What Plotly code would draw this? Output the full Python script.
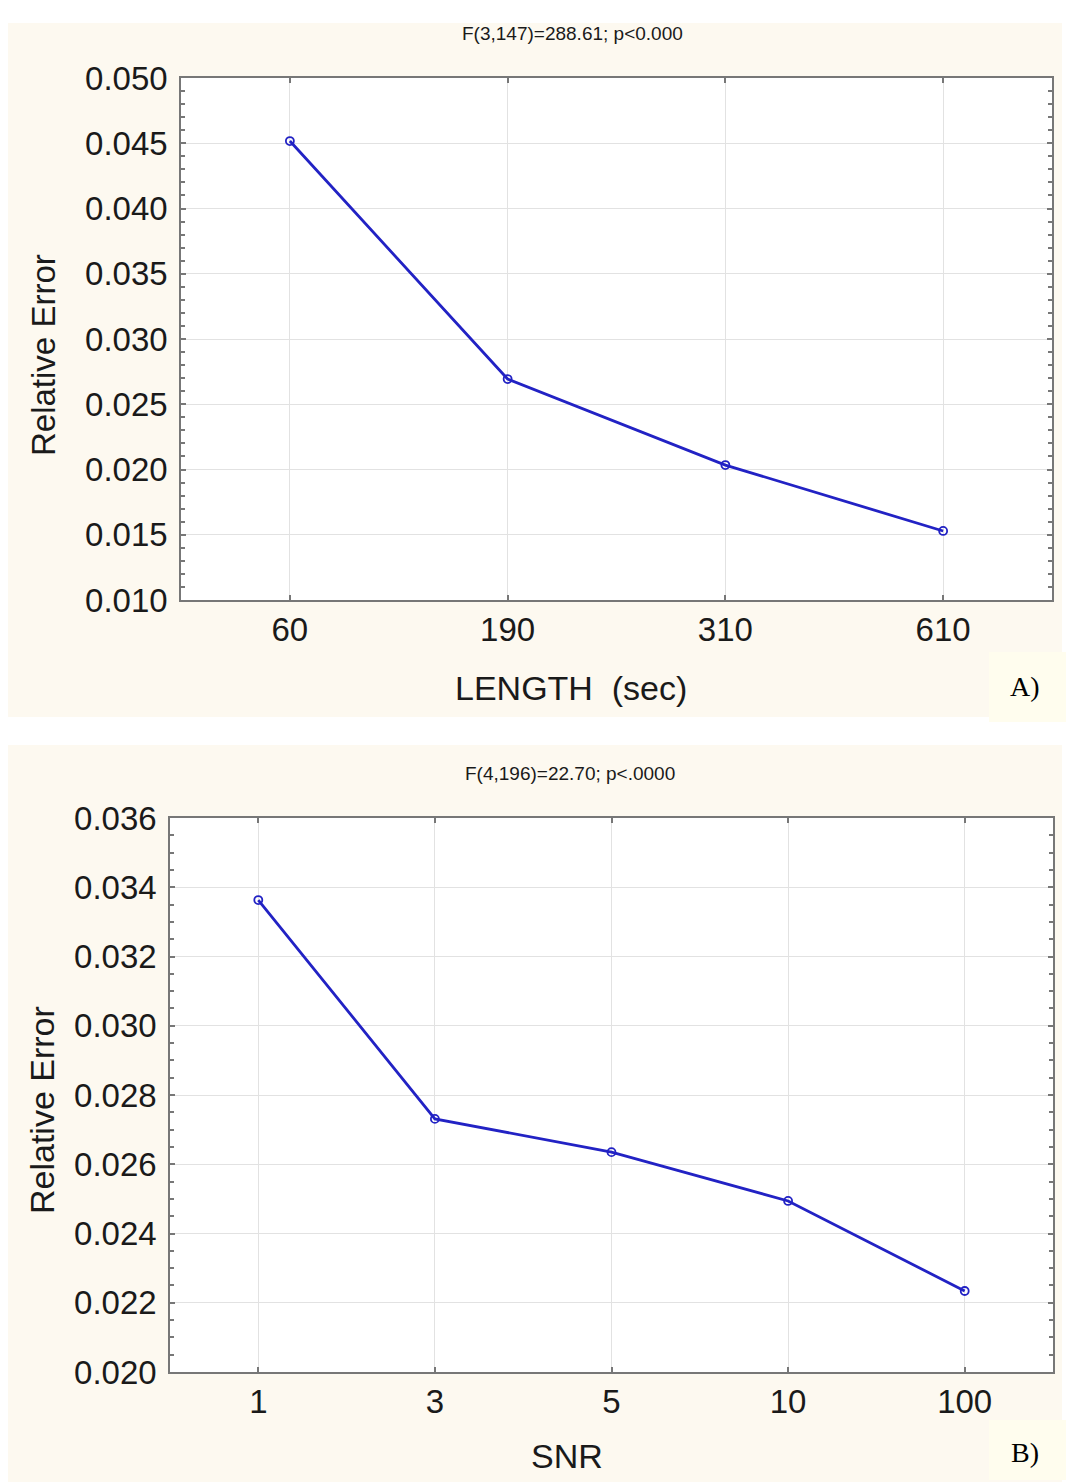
import plotly.graph_objects as go

# Data: mean relative error by recording length and by SNR
length_labels = ["60", "190", "310", "610"]
length_error = [0.04517, 0.02693, 0.02034, 0.01529]

snr_labels = ["1", "3", "5", "10", "100"]
snr_error = [0.03363, 0.02731, 0.02635, 0.02494, 0.02234]

title_a = "F(3,147)=288.61; p<0.000"
title_b = "F(4,196)=22.70; p<.0000"

W, H = 1070, 1482
CREAM = "#fdf9f0"
BOX = "#fffdee"
BLUE = "#2222c4"
GRID = "#e2e2e2"
AXIS = "#777777"
TXT = "#1a1a1a"
FONT = "Liberation Sans, Arial, sans-serif"

# plot-area rectangles in pixels: (left, right, top, bottom)
AREA_A = (181, 1052, 78, 600)
AREA_B = (170, 1053, 818, 1372)


def px_x(x):
    return x / W


def px_y(y):
    return 1 - y / H


fig = go.Figure()

for xs, ys, xa, ya in [(length_labels, length_error, "x", "y"),
                       (snr_labels, snr_error, "x2", "y2")]:
    fig.add_trace(go.Scatter(
        x=xs, y=ys, mode="lines+markers",
        line=dict(color=BLUE, width=2.8),
        marker=dict(symbol="circle-open", size=8, color=BLUE, line=dict(width=1.8)),
        xaxis=xa, yaxis=ya, showlegend=False,
    ))

common_x = dict(
    type="category", showgrid=True, gridcolor=GRID, gridwidth=1,
    showline=True, linecolor=AXIS, linewidth=1.5, mirror="ticks",
    ticks="inside", ticklen=5, tickcolor=AXIS, tickwidth=1.5,
    tickfont=dict(family=FONT, size=33, color=TXT),
    ticklabelstandoff=0, zeroline=False, automargin=False,
)
common_y = dict(
    showgrid=True, gridcolor=GRID, gridwidth=1,
    showline=True, linecolor=AXIS, linewidth=1.5, mirror="ticks",
    ticks="inside", ticklen=5, tickcolor=AXIS, tickwidth=1.5,
    tickfont=dict(family=FONT, size=33, color=TXT),
    ticklabelstandoff=5, zeroline=False, automargin=False,
)

fig.update_layout(
    width=W, height=H,
    margin=dict(l=0, r=0, t=0, b=0, pad=0, autoexpand=False),
    paper_bgcolor="white", plot_bgcolor="white",
    xaxis=dict(common_x, domain=[px_x(AREA_A[0]), px_x(AREA_A[1])], range=[-0.5, 3.5],
               anchor="y"),
    yaxis=dict(common_y, domain=[px_y(AREA_A[3]), px_y(AREA_A[2])], range=[0.010, 0.050],
               tickvals=[0.010, 0.015, 0.020, 0.025, 0.030, 0.035, 0.040, 0.045, 0.050],
               tickformat=".3f", anchor="x",
               minor=dict(ticks="inside", dtick=0.001, ticklen=4,
                          tickcolor=AXIS, showgrid=False)),
    xaxis2=dict(common_x, domain=[px_x(AREA_B[0]), px_x(AREA_B[1])], range=[-0.5, 4.5],
                anchor="y2"),
    yaxis2=dict(common_y, domain=[px_y(AREA_B[3]), px_y(AREA_B[2])], range=[0.020, 0.036],
                tickvals=[0.020, 0.022, 0.024, 0.026, 0.028, 0.030, 0.032, 0.034, 0.036],
                tickformat=".3f", anchor="x2",
                minor=dict(ticks="inside", dtick=0.0005, ticklen=4,
                           tickcolor=AXIS, showgrid=False)),
)


def rect(x0, x1, y0, y1, color):
    return dict(type="rect", xref="paper", yref="paper", layer="below",
                x0=px_x(x0), x1=px_x(x1), y0=px_y(y1), y1=px_y(y0),
                fillcolor=color, line=dict(width=0))


# Panel backgrounds, white plot areas and label boxes
shapes = [
    rect(8, 1062, 23, 717, CREAM),
    rect(8, 1062, 745, 1482, CREAM),
    rect(AREA_A[0], AREA_A[1], AREA_A[2], AREA_A[3], "white"),
    rect(AREA_B[0], AREA_B[1], AREA_B[2], AREA_B[3], "white"),
    rect(989, 1066, 652, 722, BOX),
    rect(989, 1066, 1420, 1480, BOX),
]
fig.update_layout(shapes=shapes)


def note(text, x, y, size, family=FONT, angle=0, color=TXT):
    fig.add_annotation(text=text, x=px_x(x), y=px_y(y), xref="paper", yref="paper",
                       showarrow=False, xanchor="center", yanchor="middle",
                       textangle=angle, font=dict(family=family, size=size, color=color))


note(title_a, 572, 34, 19)
note(title_b, 570, 773, 19)
note("LENGTH  (sec)", 571, 688, 34)
note("SNR", 567, 1456, 34)
note("Relative Error", 43, 355, 33, angle=-90)
note("Relative Error", 42, 1110, 34, angle=-90)
note("A)", 1025, 686, 28, family="Liberation Serif, Times New Roman, serif", color="black")
note("B)", 1025, 1452, 28, family="Liberation Serif, Times New Roman, serif", color="black")

fig.write_html("out.html")
